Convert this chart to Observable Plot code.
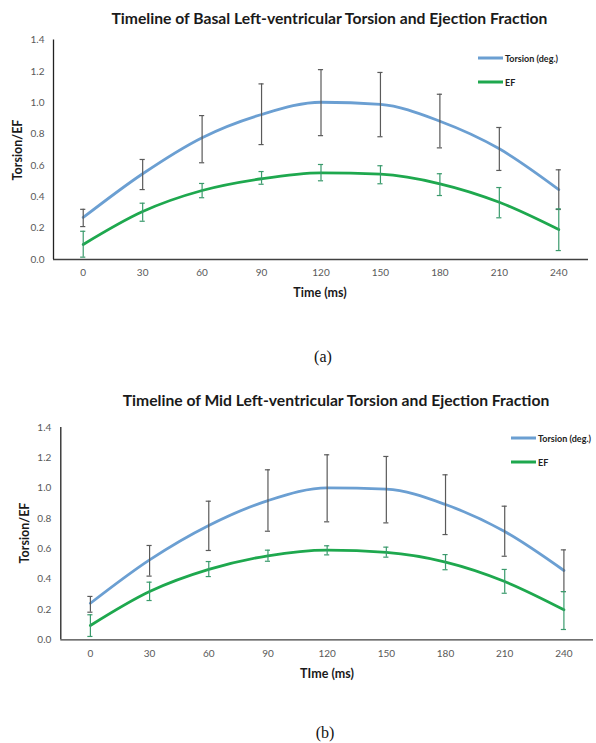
<!DOCTYPE html>
<html>
<head>
<meta charset="utf-8">
<script src="https://cdn.jsdelivr.net/npm/d3@7"></script>
<script src="https://cdn.jsdelivr.net/npm/@observablehq/plot@0.6"></script>
<style>
  html, body { margin: 0; padding: 0; background: #fff; }
  #root { position: relative; width: 596px; height: 743px; overflow: hidden; font-family: Lato, "Open Sans", sans-serif; }
  .abs { position: absolute; white-space: nowrap; line-height: 1; }
  .title { font-weight: bold; font-size: 15.7px; color: #1a1a1a; transform: translate(-50%, -50%); }
  .axt { font-weight: bold; font-size: 12.5px; color: #1a1a1a; transform: translate(-50%, -50%); }
  .ylab { font-weight: bold; font-size: 12.5px; color: #1a1a1a; transform: translate(-50%, -50%) rotate(-90deg); }
  .cap { font-family: "Liberation Serif", "DejaVu Serif", serif; font-size: 16px; color: #111; transform: translate(-50%, -50%); }
  .leg { display: flex; align-items: center; font-weight: bold; font-size: 9px; color: #222; transform: translateY(-50%); }
  .leg span.sw { display: inline-block; width: 25px; height: 3px; margin-right: 2px; }
  svg { position: absolute; left: 0; }
</style>
</head>
<body>
<div id="root"></div>
<script>
// ---------- data ----------
const times = [0, 30, 60, 90, 120, 150, 180, 210, 240];
const yTicks = [0, 0.2, 0.4, 0.6, 0.8, 1.0, 1.2, 1.4];

const basalTorsion   = [0.268, 0.547, 0.777, 0.925, 1.003, 0.989, 0.882, 0.706, 0.446];
const basalTorsionLo = [0.210, 0.446, 0.617, 0.733, 0.790, 0.783, 0.712, 0.568, 0.319];
const basalTorsionHi = [0.320, 0.638, 0.918, 1.120, 1.211, 1.193, 1.054, 0.842, 0.572];
const basalEF        = [0.096, 0.306, 0.440, 0.515, 0.553, 0.544, 0.483, 0.365, 0.191];
const basalEFLo      = [0.015, 0.244, 0.394, 0.480, 0.502, 0.483, 0.408, 0.266, 0.057];
const basalEFHi      = [0.180, 0.359, 0.485, 0.561, 0.606, 0.598, 0.547, 0.459, 0.323];

const midTorsion   = [0.241, 0.527, 0.754, 0.918, 1.002, 0.993, 0.892, 0.714, 0.457];
const midTorsionLo = [0.182, 0.420, 0.589, 0.716, 0.778, 0.771, 0.694, 0.551, 0.318];
const midTorsionHi = [0.286, 0.622, 0.914, 1.121, 1.220, 1.209, 1.088, 0.881, 0.593];
const midEF        = [0.094, 0.318, 0.464, 0.554, 0.591, 0.576, 0.512, 0.384, 0.198];
const midEFLo      = [0.022, 0.259, 0.417, 0.518, 0.560, 0.545, 0.462, 0.307, 0.068];
const midEFHi      = [0.165, 0.380, 0.516, 0.591, 0.620, 0.611, 0.562, 0.464, 0.318];

const seriesNames = ["Torsion (deg.)", "EF"];
const titles = [
  "Timeline of Basal Left-ventricular Torsion and Ejection Fraction",
  "Timeline of Mid Left-ventricular Torsion and Ejection Fraction"
];
const xTitles = ["Time (ms)", "TIme (ms)"];
const yTitle = "Torsion/EF";
const captions = ["(a)", "(b)"];

// ---------- styles ----------
const torsionColor = "#6b9fd2";
const efColor = "#1ea84e";
const torsionErrColor = "#5a5a5a";
const efErrColor = "#3a9a6c";
const xDomain = [-15, 255];

function rows(v, lo, hi) {
  return times.map((t, i) => ({t, v: v[i], lo: lo[i], hi: hi[i]}));
}

function makeChart(cfg) {
  const tor = rows(cfg.tor, cfg.torLo, cfg.torHi);
  const ef = rows(cfg.ef, cfg.efLo, cfg.efHi);
  const cap = 1.3;
  const errMarks = (data, color) => [
    Plot.ruleX(data, {x: "t", y1: "lo", y2: "hi", stroke: color, strokeWidth: 1.2}),
    Plot.ruleY(data, {y: "hi", x1: d => d.t - cap, x2: d => d.t + cap, stroke: color, strokeWidth: 1.2}),
    Plot.ruleY(data, {y: "lo", x1: d => d.t - cap, x2: d => d.t + cap, stroke: color, strokeWidth: 1.2})
  ];
  return Plot.plot({
    width: 596,
    height: cfg.height,
    marginTop: cfg.mt, marginBottom: cfg.mb, marginLeft: cfg.ml, marginRight: cfg.mr,
    style: {fontFamily: "Lato, 'Open Sans', sans-serif", fontSize: "10px", color: "#595959", background: "transparent", overflow: "visible"},
    x: {domain: xDomain},
    y: {domain: [0, 1.4]},
    marks: [
      Plot.axisY({ticks: yTicks, tickFormat: d3.format(".1f"), tickSize: 0, tickPadding: cfg.ypad, label: null, fill: "#595959"}),
      Plot.axisX({ticks: times, tickFormat: d => String(d), tickSize: 0, tickPadding: cfg.xpad, label: null, fill: "#595959"}),
      Plot.ruleY([0], {stroke: "#404040", strokeWidth: 1.3}),
      Plot.ruleX([xDomain[0]], {stroke: "#222", strokeWidth: 1.3}),
      Plot.line(tor, {x: "t", y: "v", stroke: torsionColor, strokeWidth: 2.8, curve: "monotone-x"}),
      Plot.line(ef, {x: "t", y: "v", stroke: efColor, strokeWidth: 2.8, curve: "monotone-x"}),
      ...errMarks(tor, torsionErrColor),
      ...errMarks(ef, efErrColor)
    ]
  });
}

const root = document.getElementById("root");
function addDiv(cls, text, x, y) {
  const d = document.createElement("div");
  d.className = "abs " + cls;
  d.textContent = text;
  d.style.left = x + "px";
  d.style.top = y + "px";
  root.appendChild(d);
  return d;
}
function addLegend(x, y, name, color) {
  const d = document.createElement("div");
  d.className = "abs leg";
  d.style.left = x + "px";
  d.style.top = y + "px";
  const sw = document.createElement("span");
  sw.className = "sw";
  sw.style.background = color;
  d.appendChild(sw);
  d.appendChild(document.createTextNode(name));
  root.appendChild(d);
}

const configs = [
  {top: 0, height: 300, mt: 39.5, mb: 41, ml: 53, mr: 8, ypad: 9, xpad: 9,
   tor: basalTorsion, torLo: basalTorsionLo, torHi: basalTorsionHi,
   ef: basalEF, efLo: basalEFLo, efHi: basalEFHi,
   titleX: 329.5, titleY: 19, xtX: 320, xtY: 293, ytX: 18, ytY: 150,
   legX: 478, legY1: 58, legY2: 82, capX: 323, capY: 357},
  {top: 370, height: 300, mt: 57, mb: 30.7, ml: 60.3, mr: 3, ypad: 9.5, xpad: 10,
   tor: midTorsion, torLo: midTorsionLo, torHi: midTorsionHi,
   ef: midEF, efLo: midEFLo, efHi: midEFHi,
   titleX: 336, titleY: 401, xtX: 327, xtY: 674, ytX: 25, ytY: 533,
   legX: 511, legY1: 438, legY2: 462, capX: 325, capY: 733}
];

configs.forEach((c, i) => {
  const svg = makeChart(c);
  svg.style.top = c.top + "px";
  root.appendChild(svg);
  addDiv("title", titles[i], c.titleX, c.titleY);
  addDiv("axt", xTitles[i], c.xtX, c.xtY);
  addDiv("ylab", yTitle, c.ytX, c.ytY);
  addLegend(c.legX, c.legY1, seriesNames[0], torsionColor);
  addLegend(c.legX, c.legY2, seriesNames[1], efColor);
  addDiv("cap", captions[i], c.capX, c.capY);
});
</script>
</body>
</html>
